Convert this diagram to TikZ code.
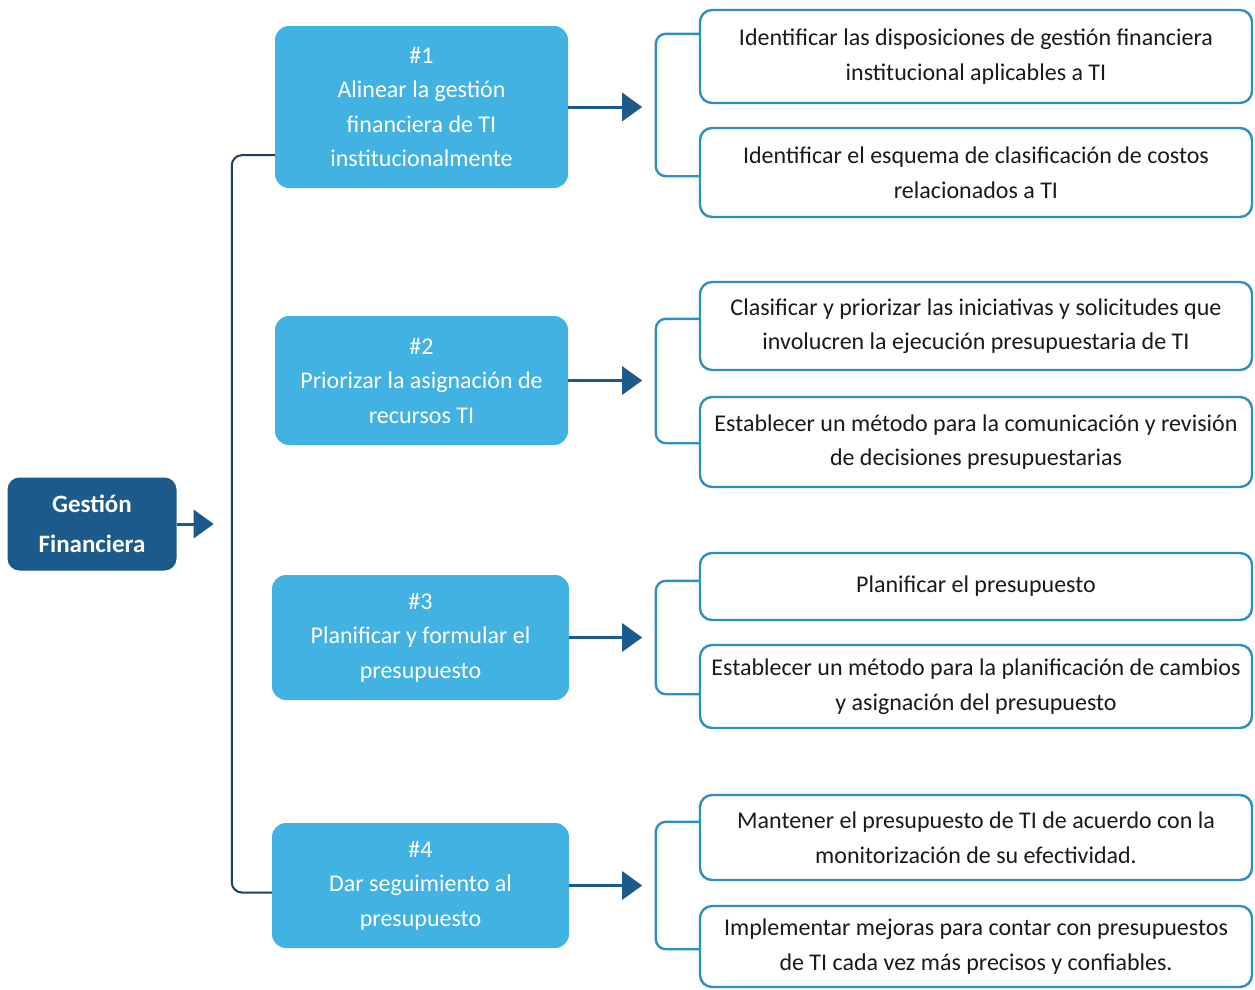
\documentclass[tikz,border=0pt]{standalone}
\usepackage{fontspec}
\setmainfont{Carlito}
\usetikzlibrary{arrows.meta,calc}

\definecolor{navy}{HTML}{1D5A8C}
\definecolor{sky}{HTML}{42B2E3}
\definecolor{rim}{HTML}{2E8FC2}
\definecolor{spinecol}{HTML}{1F3F5F}
\definecolor{ink}{HTML}{1A1A1A}

\tikzset{
  rootbox/.style={fill=navy, rounded corners=12pt, text=white, align=center,
    inner sep=0pt, minimum width=169pt, minimum height=93pt,
    font=\bfseries\fontsize{25}{40}\selectfont},
  stagebox/.style={fill=sky, rounded corners=14pt, text=white, align=center,
    inner sep=0pt, font=\fontsize{24}{34.5}\selectfont},
  taskbox/.style={draw=rim, line width=2.4pt, rounded corners=12pt, fill=white,
    text=ink, align=center, inner sep=0pt, minimum width=552pt,
    font=\fontsize{24}{34.5}\selectfont},
  flowarrow/.style={draw=navy, line width=3pt,
    -{Triangle[length=20pt,width=28pt]}},
  bracketline/.style={draw=rim, line width=2.4pt, rounded corners=10pt},
  spine/.style={draw=spinecol, line width=2pt, rounded corners=10pt}
}

\begin{document}
\begin{tikzpicture}[x=1pt,y=-1pt]
\useasboundingbox[fill=white] (0,0) rectangle (1255,989);

% root
\node[rootbox] (g) at (92,524) {Gestión\\Financiera};
\draw[flowarrow] (g.east) -- ($(g.east)+(37,0)$) coordinate (gtip);

% stages
\node[stagebox, minimum width=293pt, minimum height=162pt] (s1) at (421.5,107)
  {\#1\\Alinear la gestión\\financiera de TI\\institucionalmente};
\node[stagebox, minimum width=293pt, minimum height=129pt] (s2) at (421.5,380.5)
  {\#2\\Priorizar la asignación de\\recursos TI};
\node[stagebox, minimum width=297pt, minimum height=125pt] (s3) at (420.5,637.5)
  {\#3\\Planificar y formular el\\presupuesto};
\node[stagebox, minimum width=297pt, minimum height=125pt] (s4) at (420.5,885.5)
  {\#4\\Dar seguimiento al\\presupuesto};

% spine joining the stages
\draw[spine] ($(s1.south west)+(0,-33)$) -| ($(s4.west)+(-40,7)$) -- ($(s4.west)+(0,7)$);

% tasks
\node[taskbox, minimum height=93pt] (r1) at (976,56.5)
  {Identificar las disposiciones de gestión financiera\\institucional aplicables a TI};
\node[taskbox, minimum height=89pt] (r2) at (976,172.5)
  {Identificar el esquema de clasificación de costos\\relacionados a TI};
\node[taskbox, minimum height=88pt] (r3) at (976,326)
  {Clasificar y priorizar las iniciativas y solicitudes que\\involucren la ejecución presupuestaria de TI};
\node[taskbox, minimum height=90pt] (r4) at (976,442)
  {Establecer un método para la comunicación y revisión\\de decisiones presupuestarias};
\node[taskbox, minimum height=67pt] (r5) at (976,586.5)
  {Planificar el presupuesto};
\node[taskbox, minimum height=83pt] (r6) at (976,686.5)
  {Establecer un método para la planificación de cambios\\y asignación del presupuesto};
\node[taskbox, minimum height=85pt] (r7) at (976,837.5)
  {Mantener el presupuesto de TI de acuerdo con la\\monitorización de su efectividad.};
\node[taskbox, minimum height=81pt] (r8) at (976,946.5)
  {Implementar mejoras para contar con presupuestos\\de TI cada vez más precisos y confiables.};

% arrows from stages
\draw[flowarrow] (s1.east) -- ($(s1.east)+(74,0)$) coordinate (t1);
\draw[flowarrow] (s2.east) -- ($(s2.east)+(74,0)$) coordinate (t2);
\draw[flowarrow] (s3.east) -- ($(s3.east)+(73,0)$) coordinate (t3);
\draw[flowarrow] (s4.east) -- ($(s4.east)+(73,0)$) coordinate (t4);

% brackets gathering each pair of tasks
\draw[bracketline] ($(r1.north west)+(0,25)$) -- ++(-43,0) |- ($(r2.south west)+(0,-42)$);
\draw[bracketline] ($(r3.north west)+(0,38)$) -- ++(-43,0) |- ($(r4.south west)+(0,-45)$);
\draw[bracketline] ($(r5.north west)+(0,29)$) -- ++(-43,0) |- ($(r6.south west)+(0,-35)$);
\draw[bracketline] ($(r7.north west)+(0,28)$) -- ++(-43,0) |- ($(r8.south west)+(0,-39)$);
\end{tikzpicture}
\end{document}
